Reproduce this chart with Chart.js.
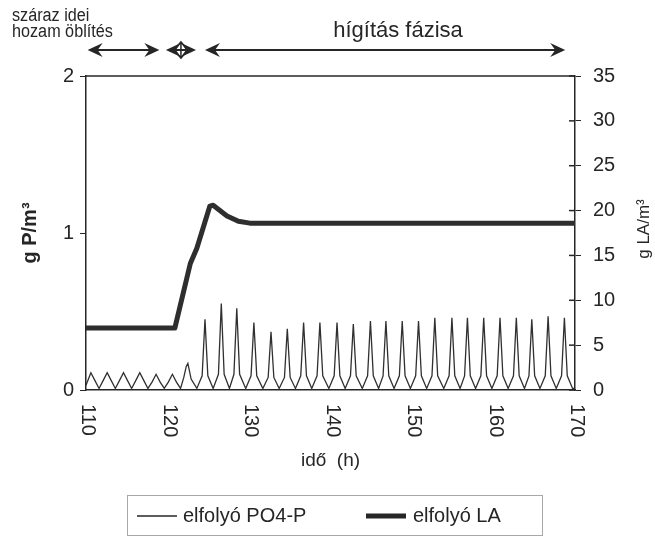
<!DOCTYPE html>
<html>
<head>
<meta charset="utf-8">
<script src="https://cdn.jsdelivr.net/npm/chart.js@4"></script>
<style>
  body { margin: 0; background: #fff; }
  canvas { display: block; }
</style>
</head>
<body>
<canvas id="chart" width="655" height="538"></canvas>
<script>
// elfolyó PO4-P (g P/m3) - one row per flushing cycle
const poHours = [
    110.0, 110.3, 110.6, 111.1, 111.6,
    112.1, 112.6, 113.1, 113.6,
    114.1, 114.6, 115.1, 115.6,
    116.1, 116.6, 117.1, 117.6,
    118.1, 118.6, 119.1, 119.6,
    120.1, 120.6, 121.1, 121.6,
    122.0, 122.3, 122.5, 122.9, 123.6,
    124.25, 124.6, 124.95, 125.6,
    126.25, 126.6, 126.95, 127.6,
    128.15, 128.5, 128.85, 129.6,
    130.25, 130.6, 130.95, 131.7,
    132.35, 132.7, 133.05, 133.7,
    134.35, 134.7, 135.05, 135.7,
    136.35, 136.7, 137.05, 137.7,
    138.35, 138.7, 139.05, 139.8,
    140.45, 140.8, 141.15, 141.8,
    142.45, 142.8, 143.15, 143.9,
    144.55, 144.9, 145.25, 145.9,
    146.45, 146.8, 147.15, 147.8,
    148.45, 148.8, 149.15, 149.8,
    150.45, 150.8, 151.15, 151.8,
    152.45, 152.8, 153.15, 153.9,
    154.55, 154.9, 155.25, 155.9,
    156.45, 156.8, 157.15, 157.8,
    158.45, 158.8, 159.15, 159.8,
    160.45, 160.8, 161.15, 161.8,
    162.45, 162.8, 163.15, 163.8,
    164.35, 164.7, 165.05, 165.7,
    166.35, 166.7, 167.05, 167.7,
    168.35, 168.7, 169.05, 169.7,
    170.0
];
const poValues = [
    0.03, 0.07, 0.11, 0.06, 0.01,
    0.06, 0.11, 0.06, 0.01,
    0.06, 0.11, 0.06, 0.01,
    0.06, 0.11, 0.06, 0.01,
    0.05, 0.10, 0.05, 0.01,
    0.05, 0.10, 0.05, 0.01,
    0.08, 0.15, 0.17, 0.07, 0.01,
    0.09, 0.45, 0.09, 0.01,
    0.10, 0.55, 0.10, 0.01,
    0.10, 0.52, 0.10, 0.01,
    0.09, 0.43, 0.09, 0.01,
    0.08, 0.37, 0.08, 0.01,
    0.08, 0.39, 0.08, 0.01,
    0.09, 0.43, 0.09, 0.01,
    0.09, 0.43, 0.09, 0.01,
    0.09, 0.43, 0.09, 0.01,
    0.09, 0.42, 0.09, 0.01,
    0.09, 0.44, 0.09, 0.01,
    0.09, 0.44, 0.09, 0.01,
    0.09, 0.44, 0.09, 0.01,
    0.09, 0.44, 0.09, 0.01,
    0.09, 0.46, 0.09, 0.01,
    0.09, 0.46, 0.09, 0.01,
    0.09, 0.46, 0.09, 0.01,
    0.09, 0.46, 0.09, 0.01,
    0.09, 0.46, 0.09, 0.01,
    0.09, 0.46, 0.09, 0.01,
    0.09, 0.45, 0.09, 0.01,
    0.09, 0.47, 0.09, 0.01,
    0.09, 0.46, 0.09, 0.01,
    0.01
];

// elfolyó LA (g LA/m3)
const laHours = [110, 120.9, 122.8, 123.6, 125.2, 125.6, 127.3, 128.7, 130.1, 170];
const laValues = [6.9, 6.9, 14.1, 15.8, 20.5, 20.6, 19.4, 18.8, 18.6, 18.6];

const seriesLabels = ['elfolyó PO4-P', 'elfolyó LA'];

// phase arrows on top (hours)
const phaseArrows = [[110.2, 119.0], [119.8, 123.5], [124.6, 168.8]];

const FONT = "'Liberation Sans', Arial, sans-serif";
const INK = '#262626';

Chart.defaults.font.family = FONT;
Chart.defaults.color = INK;

function toPoints(xs, ys) {
    return xs.map((x, i) => ({ x: x, y: ys[i] }));
}

function arrowHead(ctx, x, y, dir) {
    ctx.beginPath();
    ctx.moveTo(x, y);
    ctx.lineTo(x - dir * 15, y - 7);
    ctx.lineTo(x - dir * 10, y);
    ctx.lineTo(x - dir * 15, y + 7);
    ctx.closePath();
    ctx.fill();
}

const decorPlugin = {
    id: 'decor',
    afterDraw(chart) {
        const { ctx, chartArea, scales } = chart;
        const xs = scales.x;
        const y1 = scales.y1;
        ctx.save();
        ctx.strokeStyle = INK;
        ctx.fillStyle = INK;

        // top frame line
        ctx.lineWidth = 1.5;
        ctx.beginPath();
        ctx.moveTo(chartArea.left, chartArea.top);
        ctx.lineTo(chartArea.right, chartArea.top);
        ctx.stroke();

        // inner half of the right axis ticks
        y1.ticks.forEach(t => {
            const py = y1.getPixelForValue(t.value);
            ctx.beginPath();
            ctx.moveTo(chartArea.right - 6, py);
            ctx.lineTo(chartArea.right, py);
            ctx.stroke();
        });

        // x tick labels, turned clockwise
        ctx.font = '20px ' + FONT;
        ctx.textAlign = 'left';
        ctx.textBaseline = 'middle';
        xs.ticks.forEach(t => {
            ctx.save();
            ctx.translate(xs.getPixelForValue(t.value) + 2, chartArea.bottom + 14);
            ctx.rotate(Math.PI / 2);
            ctx.fillText(String(t.value), 0, 0);
            ctx.restore();
        });

        // right axis title
        ctx.save();
        ctx.translate(644, (chartArea.top + chartArea.bottom) / 2 - 4);
        ctx.rotate(-Math.PI / 2);
        ctx.font = '17px ' + FONT;
        ctx.textAlign = 'center';
        ctx.fillText('g LA/m³', 0, 0);
        ctx.restore();

        // phase arrows
        const ay = 50;
        ctx.lineWidth = 2;
        phaseArrows.forEach(([a, b]) => {
            const xa = xs.getPixelForValue(a);
            const xb = xs.getPixelForValue(b);
            ctx.beginPath();
            ctx.moveTo(xa + 6, ay);
            ctx.lineTo(xb - 6, ay);
            ctx.stroke();
            arrowHead(ctx, xa, ay, -1);
            arrowHead(ctx, xb, ay, 1);
        });
        // small diamond in the middle of the short phase
        const mid = (xs.getPixelForValue(phaseArrows[1][0]) + xs.getPixelForValue(phaseArrows[1][1])) / 2;
        ctx.lineWidth = 1.5;
        ctx.beginPath();
        ctx.moveTo(mid - 7, ay);
        ctx.lineTo(mid, ay - 8);
        ctx.lineTo(mid + 7, ay);
        ctx.lineTo(mid, ay + 8);
        ctx.closePath();
        ctx.moveTo(mid, ay - 8);
        ctx.lineTo(mid, ay + 8);
        ctx.stroke();

        // phase texts
        ctx.textAlign = 'left';
        ctx.textBaseline = 'alphabetic';
        ctx.save();
        ctx.translate(12, 0);
        ctx.scale(0.9, 1);
        ctx.font = '18px ' + FONT;
        ctx.fillText('száraz idei', 0, 21);
        ctx.fillText('hozam öblítés', 0, 37);
        ctx.restore();
        ctx.font = '22px ' + FONT;
        ctx.textAlign = 'center';
        ctx.fillText('hígítás fázisa', 398, 37);

        // legend box
        ctx.strokeStyle = '#a8a8a8';
        ctx.lineWidth = 1;
        ctx.strokeRect(127.5, 495.5, 415, 40);
        ctx.strokeStyle = INK;
        ctx.font = '20px ' + FONT;
        ctx.textAlign = 'left';
        ctx.textBaseline = 'middle';
        const ly = 516;
        const items = [[137, 183], [366, 413]];
        chart.data.datasets.forEach((ds, i) => {
            const [lx, tx] = items[i];
            ctx.lineWidth = ds.borderWidth;
            ctx.beginPath();
            ctx.moveTo(lx, ly);
            ctx.lineTo(lx + 40, ly);
            ctx.stroke();
            ctx.fillText(ds.label, tx, ly);
        });
        ctx.restore();
    }
};

const ctx = document.getElementById('chart').getContext('2d');
const chart = new Chart(ctx, {
    type: 'line',
    data: {
        datasets: [{
            label: seriesLabels[0],
            data: toPoints(poHours, poValues),
            yAxisID: 'y',
            borderColor: '#303030',
            borderWidth: 1.3,
            pointRadius: 0,
            tension: 0
        }, {
            label: seriesLabels[1],
            data: toPoints(laHours, laValues),
            yAxisID: 'y1',
            borderColor: '#2e2e2e',
            borderWidth: 5,
            borderJoinStyle: 'round',
            pointRadius: 0,
            tension: 0
        }]
    },
    options: {
        responsive: false,
        animation: false,
        devicePixelRatio: 1,
        layout: {
            padding: { left: 0, right: 0, top: 76, bottom: 66 }
        },
        plugins: {
            legend: { display: false },
            tooltip: { enabled: false }
        },
        scales: {
            x: {
                type: 'linear',
                min: 110,
                max: 170,
                ticks: {
                    stepSize: 10,
                    color: 'transparent',
                    font: { size: 20 },
                    minRotation: 90,
                    maxRotation: 90
                },
                grid: { display: false },
                border: { color: INK, width: 1.5 },
                title: {
                    display: true,
                    text: 'idő  (h)',
                    font: { size: 19 },
                    padding: { top: 0, bottom: 0 }
                },
                afterFit: function(scale) {
                    scale.height = 82;
                }
            },
            y: {
                position: 'left',
                min: 0,
                max: 2,
                ticks: {
                    stepSize: 1,
                    font: { size: 20 },
                    padding: 6
                },
                grid: {
                    drawOnChartArea: false,
                    tickLength: 6,
                    color: INK
                },
                border: { color: INK, width: 1.5 },
                title: {
                    display: true,
                    text: 'g P/m³',
                    font: { size: 20, weight: 'bold' },
                    padding: { top: 18, bottom: 0 }
                },
                afterFit: function(scale) {
                    scale.width = 86;
                }
            },
            y1: {
                position: 'right',
                min: 0,
                max: 35,
                ticks: {
                    stepSize: 5,
                    font: { size: 20 },
                    padding: 12
                },
                grid: {
                    drawOnChartArea: false,
                    tickLength: 6,
                    color: INK
                },
                border: { color: INK, width: 1.5 },
                afterFit: function(scale) {
                    scale.width = 80;
                }
            }
        }
    },
    plugins: [decorPlugin]
});
</script>
</body>
</html>
